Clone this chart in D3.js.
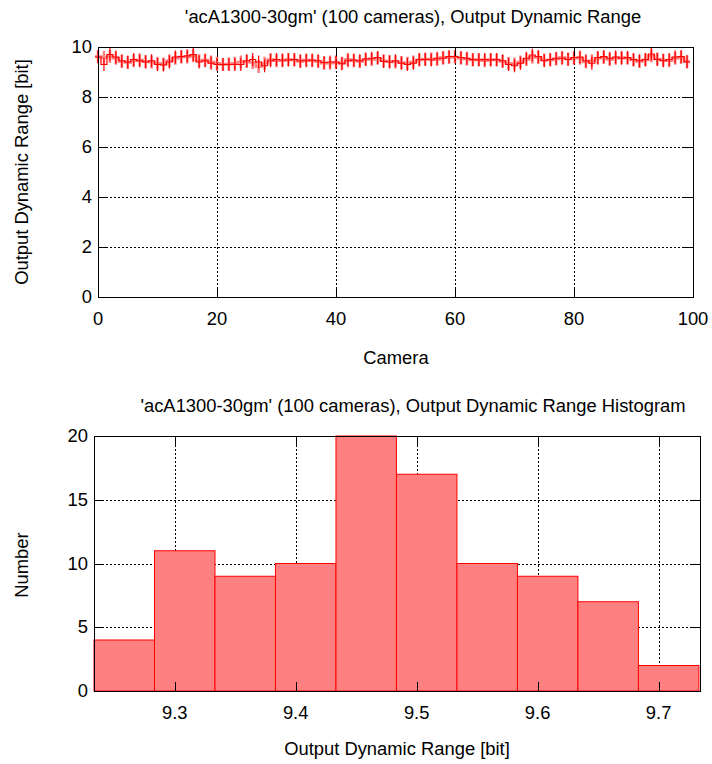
<!DOCTYPE html>
<html><head><meta charset="utf-8">
<script src="https://cdn.jsdelivr.net/npm/d3@7"></script>
<style>
html,body{margin:0;padding:0;background:#fff;}
text{font-family:"Liberation Sans",Arial,sans-serif;fill:#000;}
</style></head>
<body>
<svg id="c" width="712" height="764"></svg>
<script>
// ---------- data ----------
const topTitle = "'acA1300-30gm' (100 cameras), Output Dynamic Range";
const histTitle = "'acA1300-30gm' (100 cameras), Output Dynamic Range Histogram";
const cameraValues = [
 9.60, 9.30, 9.70, 9.60, 9.45, 9.40, 9.50, 9.45, 9.40, 9.45, 9.30, 9.28, 9.40, 9.60, 9.62, 9.65, 9.70, 9.40, 9.45, 9.35,
 9.30, 9.30, 9.30, 9.30, 9.30, 9.45, 9.50, 9.40, 9.25, 9.45, 9.50, 9.48, 9.48, 9.50, 9.45, 9.45, 9.48, 9.45, 9.38, 9.40, 9.40,
 9.33, 9.45, 9.48, 9.45, 9.52, 9.55, 9.58, 9.42, 9.40, 9.45, 9.35, 9.30, 9.35, 9.50, 9.50, 9.48, 9.55, 9.55, 9.62, 9.62,
 9.58, 9.55, 9.50, 9.48, 9.50, 9.48, 9.50, 9.45, 9.30, 9.25, 9.35, 9.55, 9.68, 9.62, 9.45, 9.50, 9.55, 9.55, 9.50, 9.58,
 9.60, 9.45, 9.35, 9.58, 9.62, 9.55, 9.60, 9.55, 9.58, 9.50, 9.45, 9.50, 9.72, 9.50, 9.45, 9.50, 9.60, 9.62, 9.40
];
const cameraValues2 = [
 9.62, 9.58, 9.62, 9.55, 9.42, 9.38, 9.45, 9.48, 9.42, 9.40, 9.35, 9.32, 9.45, 9.55, 9.60, 9.60, 9.65, 9.45, 9.48, 9.40,
 9.35, 9.30, 9.32, 9.35, 9.40, 9.42, 9.38, 9.22, 9.35, 9.50, 9.45, 9.45, 9.50, 9.48, 9.42, 9.48, 9.45, 9.42, 9.35, 9.35, 9.38,
 9.35, 9.50, 9.45, 9.42, 9.50, 9.50, 9.55, 9.45, 9.42, 9.40, 9.38, 9.35, 9.40, 9.48, 9.52, 9.52, 9.50, 9.58, 9.58, 9.60,
 9.55, 9.52, 9.48, 9.50, 9.45, 9.50, 9.48, 9.42, 9.35, 9.32, 9.40, 9.50, 9.60, 9.58, 9.48, 9.48, 9.52, 9.58, 9.52, 9.55,
 9.55, 9.40, 9.45, 9.55, 9.58, 9.50, 9.55, 9.58, 9.55, 9.48, 9.42, 9.48, 9.65, 9.52, 9.48, 9.45, 9.55, 9.58, 9.42
];
const topXTicks = [0, 20, 40, 60, 80, 100];
const topYTicks = [0, 2, 4, 6, 8, 10];
const binStarts = [9.2333, 9.2833, 9.3333, 9.3833, 9.4333, 9.4833, 9.5333, 9.5833, 9.6333, 9.6833];
const binWidth = 0.05;
const binCounts = [4, 11, 9, 10, 20, 17, 10, 9, 7, 2];
const histXTicks = [9.3, 9.4, 9.5, 9.6, 9.7];
const histYTicks = [0, 5, 10, 15, 20];

// ---------- helpers ----------
const svg = d3.select("#c");
const SX = 1.05, FS = 17.5;
function label(x, y, s, anchor, rotate) {
  return svg.append("text")
    .attr("transform", rotate ? `translate(${x},${y}) rotate(-90) scale(${SX},1)` : `translate(${x},${y}) scale(${SX},1)`)
    .attr("text-anchor", anchor || "middle")
    .style("font-size", FS + "px")
    .text(s);
}
const TL = 9;
function frame(x, y, xGrid, yGrid) {
  const [x0, x1] = x.range(), [y0, y1] = y.range();
  const g = svg.append("g");
  g.selectAll(".gx").data(xGrid).join("line")
    .attr("x1", d => Math.round(x(d)) + 0.5).attr("x2", d => Math.round(x(d)) + 0.5).attr("y1", y0).attr("y2", y1)
    .attr("stroke", "#000").attr("stroke-width", 1).attr("stroke-dasharray", "2,2");
  g.selectAll(".gy").data(yGrid).join("line")
    .attr("y1", d => Math.round(y(d)) + 0.5).attr("y2", d => Math.round(y(d)) + 0.5).attr("x1", x0).attr("x2", x1)
    .attr("stroke", "#000").attr("stroke-width", 1).attr("stroke-dasharray", "2,2");
  return g;
}
function border(x, y, xTicks, yTicks, fmtX, fmtY) {
  const [x0, x1] = x.range(), [y0, y1] = y.range();
  const g = svg.append("g");
  g.append("rect").attr("x", x0 + 0.5).attr("y", y1 + 0.5).attr("width", x1 - x0).attr("height", y0 - y1)
    .attr("fill", "none").attr("stroke", "#000").attr("stroke-width", 1);
  xTicks.forEach(d => {
    const px = Math.round(x(d)) + 0.5;
    g.append("line").attr("x1", px).attr("x2", px).attr("y1", y0).attr("y2", y0 - TL).attr("stroke", "#000");
    g.append("line").attr("x1", px).attr("x2", px).attr("y1", y1).attr("y2", y1 + TL).attr("stroke", "#000");
    label(x(d), y0 + 28, fmtX(d), "middle");
  });
  yTicks.forEach(d => {
    const py = Math.round(y(d)) + 0.5;
    g.append("line").attr("x1", x0).attr("x2", x0 + TL).attr("y1", py).attr("y2", py).attr("stroke", "#000");
    g.append("line").attr("x1", x1).attr("x2", x1 - TL).attr("y1", py).attr("y2", py).attr("stroke", "#000");
    label(x0 - 6, y(d) + 6, fmtY(d), "end");
  });
}

// ---------- top chart ----------
const xT = d3.scaleLinear().domain([0, 100]).range([98, 693]);
const yT = d3.scaleLinear().domain([0, 10]).range([297, 47]);
frame(xT, yT, [20, 40, 60, 80], [2, 4, 6, 8]);

svg.append("clipPath").attr("id", "clipTop").append("rect")
  .attr("x", 92).attr("y", 40).attr("width", 602).attr("height", 260);

function drawSeries(vals, color, width, opacity) {
  const g = svg.append("g").attr("clip-path", "url(#clipTop)").attr("opacity", opacity);
  const pts = [];
  vals.forEach((v, i) => { pts.push([i - 0.5, v]); pts.push([i + 0.5, v]); });
  g.append("path")
    .attr("d", d3.line().x(d => xT(d[0])).y(d => yT(d[1]))(pts))
    .attr("fill", "none").attr("stroke", color).attr("stroke-width", width);
  g.selectAll("line").data(vals).join("line")
    .attr("x1", (d, i) => xT(i)).attr("x2", (d, i) => xT(i))
    .attr("y1", d => yT(d) - 6.5).attr("y2", d => yT(d) + 6.5)
    .attr("stroke", color).attr("stroke-width", width);
}
drawSeries(cameraValues2, "#ff0000", 2.5, 0.5);
drawSeries(cameraValues, "#ff0000", 1.2, 1);

border(xT, yT, topXTicks, topYTicks, d => d, d => d);
label(413, 23, topTitle, "middle");
label(396, 364, "Camera", "middle");
label(28, 172, "Output Dynamic Range [bit]", "middle", true);

// ---------- histogram ----------
const xH = d3.scaleLinear().domain([9.2333, 9.7342]).range([94, 700]);
const yH = d3.scaleLinear().domain([0, 20]).range([691, 436]);
frame(xH, yH, histXTicks, [5, 10, 15]);

svg.append("g").selectAll("rect").data(binCounts).join("rect")
  .attr("x", (d, i) => xH(binStarts[i]))
  .attr("width", (d, i) => xH(binStarts[i] + binWidth) - xH(binStarts[i]))
  .attr("y", d => yH(Math.min(d, 20)))
  .attr("height", d => yH(0) - yH(Math.min(d, 20)))
  .attr("fill", "#ff8080").attr("stroke", "#ff0000").attr("stroke-width", 1);

border(xH, yH, histXTicks, histYTicks, d => d.toFixed(1), d => d);
label(413, 412, histTitle, "middle");
label(397, 755, "Output Dynamic Range [bit]", "middle");
label(28, 565, "Number", "middle", true);
</script>
</body></html>
